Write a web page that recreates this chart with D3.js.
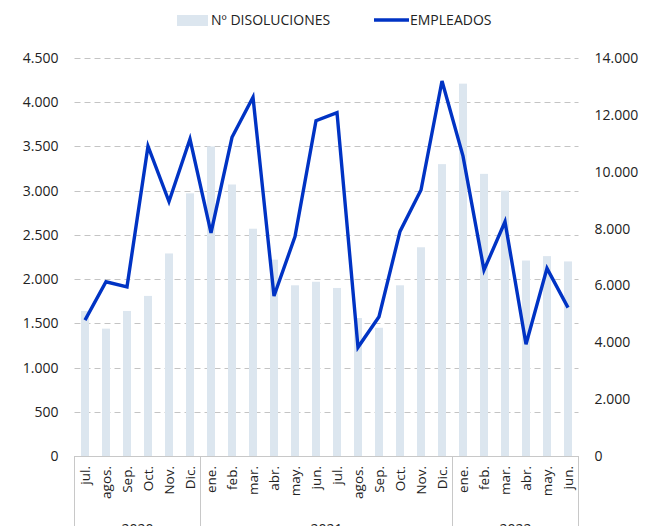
<!DOCTYPE html>
<html><head><meta charset="utf-8">
<script src="https://cdn.jsdelivr.net/npm/d3@7"></script>
<style>body{margin:0;background:#fff}svg{display:block}text{font-family:"Open Sans",sans-serif;fill:#222}</style>
</head><body><div id="c"></div>
<script>
const months = ["jul.","agos.","Sep.","Oct.","Nov.","Dic.","ene.","feb.","mar.","abr.","may.","jun.","jul.","agos.","Sep.","Oct.","Nov.","Dic.","ene.","feb.","mar.","abr.","may.","jun."];
const years = [{label:"2020",n:6},{label:"2021",n:12},{label:"2022",n:6}];
const disoluciones = [1640,1440,1640,1810,2290,2970,3500,3070,2570,2220,1930,1970,1900,1560,1450,1930,2360,3300,4210,3190,3000,2210,2260,2200];
const empleados = [4780,6130,5950,10900,8950,11150,7850,11210,12620,5630,7715,11795,12076,3823,4900,7900,9357,13190,10550,6540,8240,3930,6600,5220];
const leftTicks = [0,500,1000,1500,2000,2500,3000,3500,4000,4500];
const rightTicks = [0,2000,4000,6000,8000,10000,12000,14000];
const seriesNames = ["Nº DISOLUCIONES","EMPLEADOS"];

const W=656,H=526, L=74.5, R=578.5, T=58, B=456;
const svg=d3.select("#c").append("svg").attr("width",W).attr("height",H);
const idx = months.map((m,i)=>i);
const x=d3.scaleBand().domain(idx).range([L,R]).paddingInner(0.62).paddingOuter(0.31);
const xc=d3.scaleBand().domain(idx).range([L,R]);
const yL=d3.scaleLinear().domain([0,4500]).range([B,T]);
const yR=d3.scaleLinear().domain([0,14000]).range([B,T]);
const fmt=d=>d3.format(",")(d).replace(/,/g,".");

// gridlines
svg.append("g").selectAll("line").data(leftTicks.filter(d=>d>0)).join("line")
  .attr("x1",L).attr("x2",R).attr("y1",d=>Math.round(yL(d))+0.5).attr("y2",d=>Math.round(yL(d))+0.5)
  .attr("stroke","#c4c4c4").attr("stroke-width",1).attr("stroke-dasharray","6,4");

// bars
svg.append("g").selectAll("rect").data(disoluciones).join("rect")
  .attr("x",(d,i)=>x(i)).attr("width",x.bandwidth())
  .attr("y",d=>yL(d)).attr("height",d=>B-yL(d)).attr("fill","#dce6ef");

// line
svg.append("path").datum(empleados)
  .attr("d",d3.line().x((d,i)=>xc(i)+xc.bandwidth()/2).y(d=>yR(d)))
  .attr("fill","none").attr("stroke","#0033c4").attr("stroke-width",3.4).attr("stroke-linejoin","miter");

// left axis
const gl=svg.append("g").attr("transform",`translate(${L},0)`)
  .call(d3.axisLeft(yL).tickValues(leftTicks).tickSize(0).tickPadding(16).tickFormat(fmt));
gl.select(".domain").remove();
gl.selectAll("text").style("font-size","14px").attr("fill","#222");

// right axis
const gr=svg.append("g").attr("transform",`translate(${R},0)`)
  .call(d3.axisRight(yR).tickValues(rightTicks).tickSize(0).tickPadding(16).tickFormat(fmt));
gr.select(".domain").remove();
gr.selectAll("text").style("font-size","14px").attr("fill","#222");

// category axis box
const axc="#c8c8c8";
svg.append("line").attr("x1",L).attr("x2",R).attr("y1",B+0.5).attr("y2",B+0.5).attr("stroke",axc);
let acc=0; const seps=[0];
years.forEach(y=>{acc+=y.n; seps.push(acc);});
svg.append("g").selectAll("line").data(seps).join("line")
  .attr("x1",d=>d<months.length?xc(d):R).attr("x2",d=>d<months.length?xc(d):R)
  .attr("y1",B).attr("y2",H).attr("stroke",axc);
svg.append("g").selectAll("text").data(months).join("text")
  .attr("transform",(d,i)=>`translate(${xc(i)+xc.bandwidth()/2+5},${B+10}) rotate(-90)`)
  .attr("text-anchor","end").style("font-size","13.5px").text(d=>d);
svg.append("g").selectAll("text").data(years).join("text")
  .attr("x",(d,i)=>{const s=seps[i],e=seps[i+1];const x0=xc(s),x1=e<months.length?xc(e):R;return (x0+x1)/2;})
  .attr("y",B+78).attr("text-anchor","middle").style("font-size","14px").text(d=>d.label);

// legend
const lg=svg.append("g");
lg.append("rect").attr("x",177).attr("y",15).attr("width",31).attr("height",11).attr("fill","#dce6ef");
lg.append("text").attr("x",211).attr("y",25).style("font-size","14px").text(seriesNames[0]);
lg.append("line").attr("x1",374).attr("x2",409).attr("y1",20).attr("y2",20).attr("stroke","#0033c4").attr("stroke-width",3.4);
lg.append("text").attr("x",410).attr("y",25).style("font-size","14px").text(seriesNames[1]);
</script></body></html>
